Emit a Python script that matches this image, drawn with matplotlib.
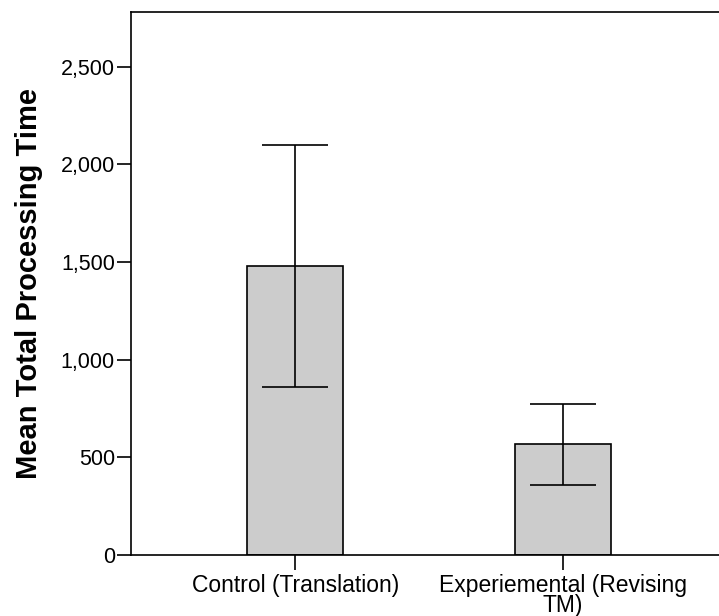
import matplotlib
matplotlib.use('Agg')
import matplotlib.pyplot as plt
from matplotlib.ticker import FuncFormatter

groups = ["Control (Translation)", "Experiemental (Revising\nTM)"]
means = [1480, 569]
ci_low = [860, 359]
ci_high = [2100, 774]
y_ticks = [0, 500, 1000, 1500, 2000, 2500]

plt.rcParams['font.family'] = ['Liberation Sans', 'DejaVu Sans']

fig = plt.figure(figsize=(7.19, 6.16), dpi=100)
ax = fig.add_axes([0.182, 0.099, 0.818, 0.8815])

x = list(range(len(groups)))
err = [[m - lo for m, lo in zip(means, ci_low)],
       [hi - m for m, hi in zip(means, ci_high)]]

ax.bar(x, means, width=0.36, color='#cccccc', edgecolor='black', linewidth=1.2, zorder=2)
ax.errorbar(x, means, yerr=err, fmt='none', ecolor='black', elinewidth=1.2,
            capsize=24, capthick=1.2, zorder=3)

ax.set_xlim(-0.614, 1.584)
ax.set_ylim(0, 2780)
ax.set_yticks(y_ticks)
ax.yaxis.set_major_formatter(FuncFormatter(lambda v, p: f"{int(v):,}"))
ax.set_xticks(x)
ax.set_xticklabels(groups, fontsize=16.5, linespacing=0.8)
ax.tick_params(axis='y', labelsize=15.5, length=10, width=1.2, pad=1.5)
ax.tick_params(axis='x', length=11, width=1.2, pad=3)

for side in ['left', 'bottom', 'top']:
    ax.spines[side].set_linewidth(1.2)
ax.spines['right'].set_visible(False)

ax.set_ylabel("Mean Total Processing Time", fontsize=21, fontweight='bold', labelpad=13)

fig.savefig("out.png", dpi=100)
